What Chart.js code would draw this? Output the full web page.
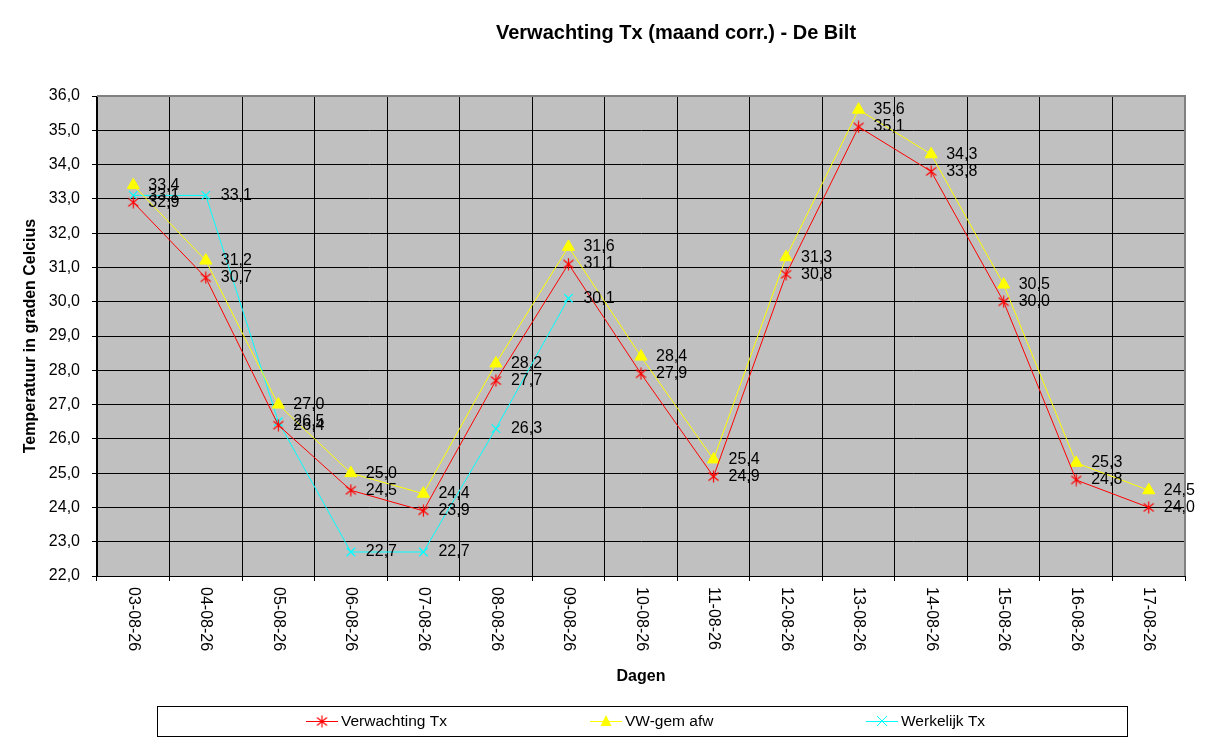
<!DOCTYPE html>
<html>
<head>
<meta charset="utf-8">
<script src="https://cdn.jsdelivr.net/npm/chart.js@4"></script>
<style>
  body { margin: 0; background: #fff; }
  #myChart { display: block; }
</style>
</head>
<body>
<canvas id="myChart" width="1220" height="747"></canvas>
<script>
// the data
var dagen = ['03-08-26', '04-08-26', '05-08-26', '06-08-26', '07-08-26', '08-08-26', '09-08-26', '10-08-26',
             '11-08-26', '12-08-26', '13-08-26', '14-08-26', '15-08-26', '16-08-26', '17-08-26'];
var verwachtingTx = [32.9, 30.7, 26.4, 24.5, 23.9, 27.7, 31.1, 27.9, 24.9, 30.8, 35.1, 33.8, 30.0, 24.8, 24.0];
var vwGemAfw = [33.4, 31.2, 27.0, 25.0, 24.4, 28.2, 31.6, 28.4, 25.4, 31.3, 35.6, 34.3, 30.5, 25.3, 24.5];
var werkelijkTx = [33.1, 33.1, 26.5, 22.7, 22.7, 26.3, 30.1, null, null, null, null, null, null, null, null];
var yMin = 22, yMax = 36, yStep = 1;

function komma(v) {
    return Number(v).toFixed(1).replace('.', ',');
}

// red asterisk marker (vertical line + X)
function maakSter(kleur) {
    var c = document.createElement('canvas');
    c.width = 13; c.height = 13;
    var g = c.getContext('2d');
    g.strokeStyle = kleur;
    g.lineWidth = 1.2;
    g.beginPath();
    g.moveTo(6.5, 0.5); g.lineTo(6.5, 12.5);
    g.moveTo(1.5, 2.5); g.lineTo(11.5, 10.5);
    g.moveTo(11.5, 2.5); g.lineTo(1.5, 10.5);
    g.stroke();
    return c;
}
var sterRood = maakSter('#FF0000');

var element = document.getElementById('myChart').getContext('2d');

var chartData = {
    labels: dagen,
    datasets: [{
        label: 'Verwachting Tx',
        data: verwachtingTx,
        borderColor: '#FF0000',
        backgroundColor: '#FF0000',
        borderWidth: 1,
        pointStyle: sterRood,
        pointRadius: 6
    }, {
        label: 'VW-gem afw',
        data: vwGemAfw,
        borderColor: '#FFFF00',
        backgroundColor: '#FFFF00',
        borderWidth: 1,
        pointStyle: 'triangle',
        pointRadius: 7,
        pointBorderWidth: 1
    }, {
        label: 'Werkelijk Tx',
        data: werkelijkTx,
        borderColor: '#00FFFF',
        backgroundColor: '#00FFFF',
        borderWidth: 1,
        pointStyle: 'crossRot',
        pointRadius: 6,
        pointBorderWidth: 1.2,
        spanGaps: false
    }]
};

// plot background, gray top/right border, labels, legend, title
var tekenPlugin = {
    id: 'teken',
    beforeDraw: function (chart) {
        var ctx = chart.ctx, a = chart.chartArea;
        ctx.save();
        ctx.fillStyle = '#FFFFFF';
        ctx.fillRect(0, 0, chart.width, chart.height);
        ctx.fillStyle = '#C0C0C0';
        ctx.fillRect(a.left, a.top, a.right - a.left, a.bottom - a.top);
        ctx.restore();
    },
    beforeDatasetsDraw: function (chart) {
        var ctx = chart.ctx, a = chart.chartArea;
        ctx.save();
        ctx.strokeStyle = '#808080';
        ctx.lineWidth = 2;
        ctx.beginPath();
        ctx.moveTo(a.left, a.top);
        ctx.lineTo(a.right, a.top);
        ctx.lineTo(a.right, a.bottom);
        ctx.stroke();
        ctx.restore();
    },
    afterDatasetsDraw: function (chart) {
        var ctx = chart.ctx;
        ctx.save();
        ctx.fillStyle = '#000';
        ctx.font = '16px Arial, "Liberation Sans", sans-serif';
        ctx.textAlign = 'left';
        ctx.textBaseline = 'middle';
        chart.data.datasets.forEach(function (ds, i) {
            var meta = chart.getDatasetMeta(i);
            meta.data.forEach(function (pt, j) {
                var v = ds.data[j];
                if (v === null || v === undefined) return;
                ctx.fillText(komma(v), pt.x + 15, pt.y);
            });
        });
        ctx.restore();
    },
    afterDraw: function (chart) {
        var ctx = chart.ctx, xs = chart.scales.x, a = chart.chartArea;
        ctx.save();
        // title
        ctx.fillStyle = '#000';
        ctx.font = 'bold 20px Arial, "Liberation Sans", sans-serif';
        ctx.textAlign = 'center';
        ctx.textBaseline = 'middle';
        ctx.fillText('Verwachting Tx (maand corr.) - De Bilt', 676, 33);

        // x tick labels, rotated clockwise
        ctx.font = '16px Arial, "Liberation Sans", sans-serif';
        ctx.textAlign = 'left';
        ctx.textBaseline = 'middle';
        dagen.forEach(function (d, i) {
            var x = xs.getPixelForValue(i);
            ctx.save();
            ctx.translate(x, a.bottom + 11);
            ctx.rotate(Math.PI / 2);
            ctx.fillText(d, 0, 0);
            ctx.restore();
        });

        // legend box
        ctx.strokeStyle = '#000';
        ctx.lineWidth = 1;
        ctx.strokeRect(157.5, 706.5, 970, 30);
        var items = [
            { x: 306, tekst: 'Verwachting Tx' },
            { x: 590, tekst: 'VW-gem afw' },
            { x: 866, tekst: 'Werkelijk Tx' }
        ];
        var ly = 721;
        ctx.font = '15.5px Arial, "Liberation Sans", sans-serif';
        items.forEach(function (it, i) {
            var ds = chart.data.datasets[i];
            ctx.strokeStyle = ds.borderColor;
            ctx.lineWidth = 1;
            ctx.beginPath();
            ctx.moveTo(it.x, ly + 0.5);
            ctx.lineTo(it.x + 32, ly + 0.5);
            ctx.stroke();
            var mx = it.x + 16;
            if (i === 0) {
                ctx.drawImage(sterRood, mx - 6.5, ly - 6);
            } else if (i === 1) {
                ctx.fillStyle = '#FFFF00';
                ctx.beginPath();
                ctx.moveTo(mx, ly - 6);
                ctx.lineTo(mx + 5.5, ly + 5);
                ctx.lineTo(mx - 5.5, ly + 5);
                ctx.closePath();
                ctx.fill();
            } else {
                ctx.strokeStyle = '#00FFFF';
                ctx.beginPath();
                ctx.moveTo(mx - 5, ly - 5); ctx.lineTo(mx + 5, ly + 5);
                ctx.moveTo(mx + 5, ly - 5); ctx.lineTo(mx - 5, ly + 5);
                ctx.stroke();
            }
            ctx.fillStyle = '#000';
            ctx.fillText(it.tekst, it.x + 35, ly + 1);
        });
        ctx.restore();
    }
};

var chartOptions = {
    responsive: false,
    animation: false,
    devicePixelRatio: 1,
    layout: { padding: { left: 0, right: 35, top: 96, bottom: 61 } },
    plugins: {
        legend: { display: false },
        tooltip: { enabled: false },
        title: { display: false }
    },
    elements: { line: { tension: 0 } },
    scales: {
        x: {
            type: 'category',
            offset: true,
            grid: { offset: true, color: '#000', lineWidth: 1, tickLength: 5, drawTicks: true },
            border: { color: '#000', width: 1 },
            ticks: { display: false },
            title: {
                display: true,
                text: 'Dagen',
                color: '#000',
                font: { family: 'Arial, "Liberation Sans", sans-serif', size: 16, weight: 'bold' },
                padding: { top: 0, bottom: 0 }
            },
            afterFit: function (scale) { scale.height = 110; }
        },
        y: {
            min: yMin,
            max: yMax,
            grid: { color: '#000', lineWidth: 1, tickLength: 5 },
            border: { color: '#000', width: 1 },
            ticks: {
                stepSize: yStep,
                color: '#000',
                padding: 12,
                font: { family: 'Arial, "Liberation Sans", sans-serif', size: 16 },
                callback: function (v) { return komma(v); }
            },
            title: {
                display: true,
                text: 'Temperatuur in graden Celcius',
                color: '#000',
                font: { family: 'Arial, "Liberation Sans", sans-serif', size: 16, weight: 'bold' },
                padding: { top: 21, bottom: 0 }
            },
            afterFit: function (scale) { scale.width = 97; }
        }
    }
};

var chart = new Chart(element, { type: 'line', data: chartData, options: chartOptions, plugins: [tekenPlugin] });
</script>
</body>
</html>
